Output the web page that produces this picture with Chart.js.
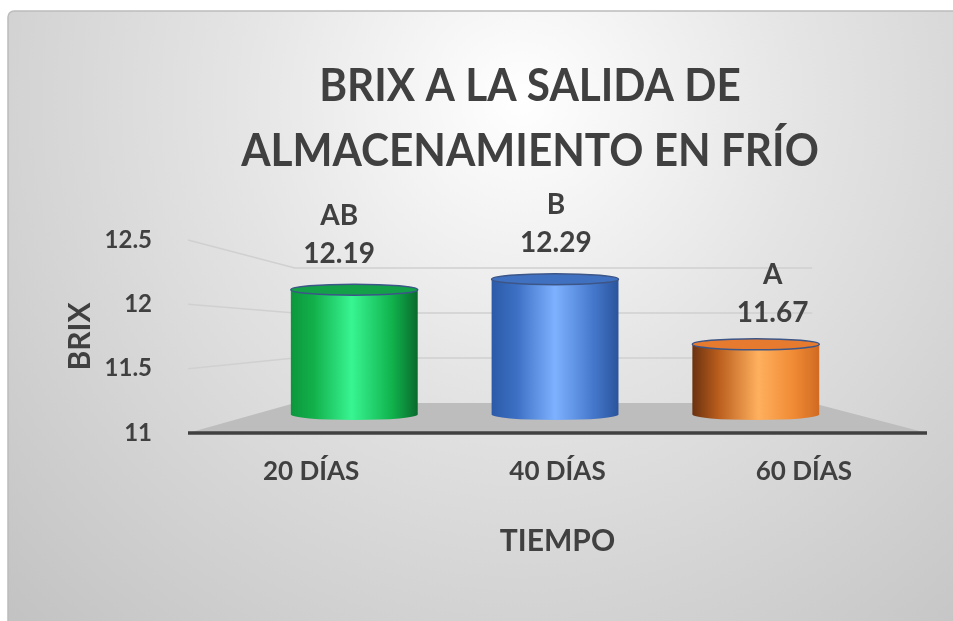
<!DOCTYPE html>
<html>
<head>
<meta charset="utf-8">
<script src="https://cdn.jsdelivr.net/npm/chart.js@4.4.0/dist/chart.umd.min.js"></script>
<style>
html,body{margin:0;padding:0;background:#fff}
#wrap{width:953px;height:621px;position:relative}
</style>
</head>
<body>
<div id="wrap"><canvas id="brixChart"></canvas></div>
<script>
// data
const categories = ['20 DÍAS', '40 DÍAS', '60 DÍAS'];
const brix = [12.19, 12.29, 11.67];
const letters = ['AB', 'B', 'A'];
const yTicks = [11, 11.5, 12, 12.5];
const titleLines = ['BRIX A LA SALIDA DE', 'ALMACENAMIENTO EN FRÍO'];

// cylinder shading: gradient stops across the body + top face colour
const palettes = [
  {stops: [[0, '#0c973d'], [0.18, '#12b04b'], [0.48, '#38f592'], [0.8, '#10b24c'], [1, '#096a2d']], top: '#14a048'},
  {stops: [[0, '#2b5aa8'], [0.2, '#3d70c4'], [0.5, '#7eb2ff'], [0.8, '#4578cc'], [1, '#2a549c']], top: '#4070c0'},
  {stops: [[0, '#6a3210'], [0.2, '#b85c1c'], [0.52, '#ffb05e'], [0.8, '#f08a34'], [1, '#d06a22']], top: '#e67a2e'}
];

const FONT = 'Lato';
const INK = '#404040';
const BACK = 0.7, BAR = 0.815, LABEL = 0.88; // depth factors toward the vanishing point

function persp(ca){
  return {vx: ca.left + 0.482 * (ca.right - ca.left), vy: ca.top + 0.482 * (ca.bottom - ca.top)};
}
function proj(p, s, x, y){ return [p.vx + s * (x - p.vx), p.vy + s * (y - p.vy)]; }

function cylinder(ctx, cx, r, yt, yb, ry, pal){
  const g = ctx.createLinearGradient(cx - r, 0, cx + r, 0);
  pal.stops.forEach(s => g.addColorStop(s[0], s[1]));
  ctx.beginPath();
  ctx.moveTo(cx - r, yt);
  ctx.lineTo(cx - r, yb);
  ctx.ellipse(cx, yb, r, ry, 0, Math.PI, 0, true);
  ctx.lineTo(cx + r, yt);
  ctx.ellipse(cx, yt, r, ry, 0, 0, Math.PI, true);
  ctx.closePath();
  ctx.fillStyle = g;
  ctx.fill();
  ctx.beginPath();
  ctx.ellipse(cx, yt, r, ry, 0, 0, Math.PI * 2);
  ctx.fillStyle = pal.top;
  ctx.fill();
  ctx.lineWidth = 1.5;
  ctx.strokeStyle = '#3d5688';
  ctx.stroke();
}

const scene = {
  id: 'scene',
  beforeDraw(chart){
    const {ctx, width, height} = chart;
    ctx.save();
    ctx.fillStyle = '#fff';
    ctx.fillRect(0, 0, width, height);
    const g = ctx.createRadialGradient(520, 100, 0, 520, 100, 720);
    g.addColorStop(0, '#ffffff');
    g.addColorStop(0.4, '#e4e4e4');
    g.addColorStop(1, '#c3c3c3');
    ctx.beginPath();
    ctx.roundRect(8, 11, width, height, 6);
    ctx.fillStyle = g;
    ctx.fill();
    ctx.lineWidth = 1.5;
    ctx.strokeStyle = '#bcbcbc';
    ctx.stroke();
    // title, two lines
    ctx.fillStyle = INK;
    ctx.font = 'bold 46px ' + FONT;
    ctx.textAlign = 'center';
    ctx.textBaseline = 'alphabetic';
    titleLines.forEach((t, i) => {
      ctx.save();
      ctx.translate(530, 101 + i * 65);
      ctx.scale(0.92, 1);
      ctx.fillText(t, 0, 0);
      ctx.restore();
    });
    ctx.restore();
  },
  beforeDatasetsDraw(chart){
    const {ctx, chartArea: ca} = chart;
    const y = chart.scales.y;
    const p = persp(ca);
    ctx.save();
    // floor
    const bl = proj(p, BACK, ca.left, ca.bottom), br = proj(p, BACK, ca.right, ca.bottom);
    ctx.beginPath();
    ctx.moveTo(ca.left, ca.bottom);
    ctx.lineTo(bl[0], bl[1]);
    ctx.lineTo(br[0], br[1]);
    ctx.lineTo(ca.right, ca.bottom);
    ctx.closePath();
    ctx.fillStyle = '#bdbdbd';
    ctx.fill();
    // side + back wall gridlines
    ctx.strokeStyle = '#d0d0d0';
    ctx.lineWidth = 1.5;
    yTicks.filter(v => v > y.min).forEach(v => {
      const yf = y.getPixelForValue(v);
      const a = proj(p, BACK, ca.left, yf), b = proj(p, BACK, ca.right, yf);
      ctx.beginPath();
      ctx.moveTo(ca.left, yf);
      ctx.lineTo(a[0], a[1]);
      ctx.lineTo(b[0], b[1]);
      ctx.stroke();
    });
    // front axis edge
    ctx.beginPath();
    ctx.moveTo(ca.left, ca.bottom);
    ctx.lineTo(ca.right, ca.bottom);
    ctx.strokeStyle = INK;
    ctx.lineWidth = 3.5;
    ctx.stroke();
    ctx.restore();
  },
  afterDatasetsDraw(chart){
    const {ctx, chartArea: ca} = chart;
    const y = chart.scales.y;
    const p = persp(ca);
    const meta = chart.getDatasetMeta(0);
    const base = y.getPixelForValue(y.min);
    ctx.save();
    meta.data.forEach((bar, i) => {
      const {x, width} = bar.getProps(['x', 'width'], true);
      const yv = y.getPixelForValue(brix[i]);
      const top = proj(p, BAR, x, yv), bot = proj(p, BAR, x, base);
      cylinder(ctx, top[0], BAR * width / 2, top[1], bot[1], 5.5, palettes[i]);
      const lab = proj(p, LABEL, x, yv);
      ctx.fillStyle = INK;
      ctx.font = 'bold 28px ' + FONT;
      ctx.textAlign = 'center';
      ctx.textBaseline = 'middle';
      ctx.fillText(brix[i].toFixed(2), lab[0], lab[1] - 32);
      ctx.fillText(letters[i], lab[0], lab[1] - 70);
    });
    ctx.restore();
  }
};

new Chart(document.getElementById('brixChart'), {
  type: 'bar',
  data: {
    labels: categories,
    datasets: [{
      label: 'BRIX',
      data: brix,
      backgroundColor: 'rgba(0,0,0,0)',
      borderWidth: 0,
      categoryPercentage: 0.8,
      barPercentage: 0.79
    }]
  },
  options: {
    responsive: true,
    maintainAspectRatio: false,
    animation: false,
    layout: {padding: {top: 240, right: 26, bottom: 0, left: 0}},
    plugins: {
      legend: {display: false},
      tooltip: {enabled: false},
      title: {display: false}
    },
    scales: {
      x: {
        grid: {display: false},
        border: {display: false},
        ticks: {color: INK, font: {family: FONT, size: 26, weight: 'bold'}, padding: 15, maxRotation: 0},
        title: {display: true, text: 'TIEMPO', color: INK, font: {family: FONT, size: 30, weight: 'bold'}, padding: {top: 0, bottom: 62}},
        afterFit(s){ s.height = 188; }
      },
      y: {
        min: 11,
        max: 12.5,
        afterBuildTicks(s){ s.ticks = yTicks.map(v => ({value: v})); },
        grid: {display: false},
        border: {display: false},
        ticks: {color: INK, font: {family: FONT, size: 24, weight: 'bold'}, padding: 28, callback: v => String(v)},
        title: {display: true, text: 'BRIX', color: INK, font: {family: FONT, size: 30, weight: 'bold'}, padding: {top: 62, bottom: 0}},
        afterFit(s){ s.width = 188; }
      }
    }
  },
  plugins: [scene]
});
</script>
</body>
</html>
